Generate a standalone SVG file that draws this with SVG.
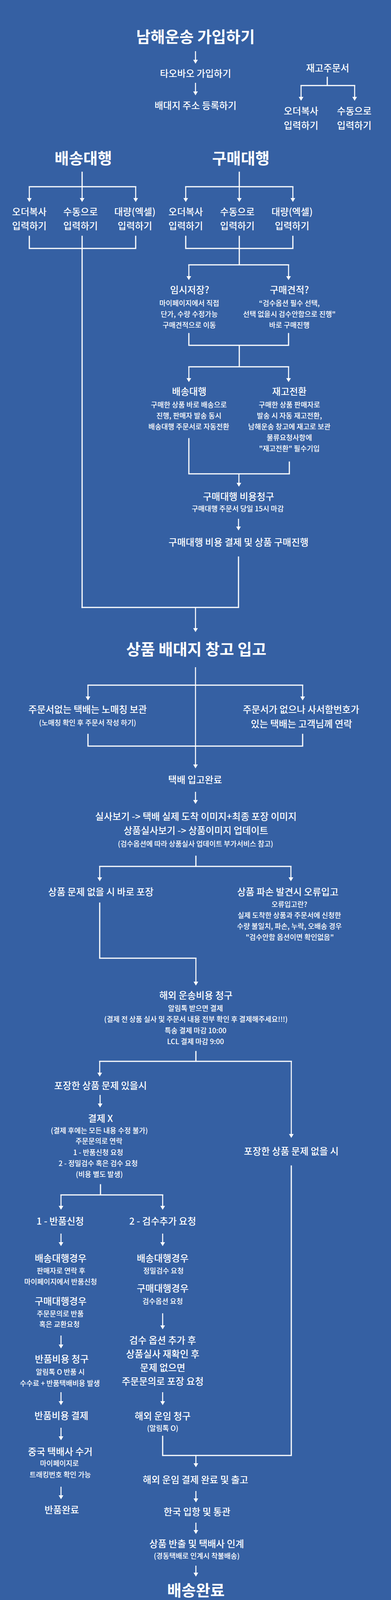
<svg xmlns="http://www.w3.org/2000/svg" width="1000" height="4260" viewBox="0 0 1000 4260">
<defs>
<style>
text{font-family:"Noto Sans CJK KR","Noto Sans",sans-serif;fill:#fff;text-anchor:middle}
.h1{font-size:40px;font-weight:700}
.h2{font-size:24px;font-weight:500}
.s{font-size:18px;font-weight:500}
.ln{stroke:#fff;stroke-width:3;fill:none;stroke-linecap:square}
.ar{stroke:#fff;stroke-width:2.6;fill:none;marker-end:url(#ah)}
</style>
<marker id="ah" markerUnits="userSpaceOnUse" markerWidth="12" markerHeight="12" refX="7" refY="6" orient="auto" viewBox="0 0 10 12">
<path d="M0,0 L10,6 L0,12 z" fill="#fff"/>
</marker>
</defs>
<rect width="1000" height="4260" fill="#3560A3"/>

<g id="connectors">
<line class="ar" x1="500" y1="131" x2="500" y2="160"/>
<line class="ar" x1="500" y1="212" x2="500" y2="241"/>
<path class="ln" d="M837,198 V219 M770,219 H907"/>
<line class="ar" x1="770" y1="219" x2="770" y2="255"/>
<line class="ar" x1="907" y1="219" x2="907" y2="255"/>

<path class="ln" d="M210,441 V478 M75,478 H347"/>
<line class="ar" x1="75" y1="478" x2="75" y2="514"/>
<line class="ar" x1="210" y1="478" x2="210" y2="514"/>
<line class="ar" x1="347" y1="478" x2="347" y2="514"/>
<path class="ln" d="M612,441 V478 M475,478 H749"/>
<line class="ar" x1="475" y1="478" x2="475" y2="514"/>
<line class="ar" x1="612" y1="478" x2="612" y2="514"/>
<line class="ar" x1="749" y1="478" x2="749" y2="514"/>

<path class="ln" d="M75,605 V636 H347 V605 M210,605 V1555"/>
<path class="ln" d="M475,605 V636 H749 V605 M612,605 V678 M483,678 H738"/>
<line class="ar" x1="483" y1="678" x2="483" y2="714"/>
<line class="ar" x1="738" y1="678" x2="738" y2="714"/>

<path class="ln" d="M483,854 V884 H738 V854 M612,884 V939 M483,939 H738"/>
<line class="ar" x1="483" y1="939" x2="483" y2="975"/>
<line class="ar" x1="738" y1="939" x2="738" y2="975"/>

<path class="ln" d="M483,1123 V1213 H740 V1183"/>
<line class="ar" x1="611" y1="1213" x2="611" y2="1243"/>
<line class="ar" x1="610" y1="1328" x2="610" y2="1355"/>

<path class="ln" d="M610,1426 V1555 H210"/>
<line class="ar" x1="500" y1="1555" x2="500" y2="1615"/>

<line class="ar" x1="500" y1="1708" x2="500" y2="1964"/>
<path class="ln" d="M225,1754 H774"/>
<line class="ar" x1="225" y1="1754" x2="225" y2="1790"/>
<line class="ar" x1="774" y1="1754" x2="774" y2="1790"/>
<path class="ln" d="M225,1880 V1910 H774 V1880"/>

<line class="ar" x1="500" y1="2027" x2="500" y2="2055"/>
<path class="ln" d="M501,2192 V2218 M255,2218 H744"/>
<line class="ar" x1="255" y1="2218" x2="255" y2="2253"/>
<line class="ar" x1="744" y1="2218" x2="744" y2="2253"/>

<path class="ln" d="M255,2312 V2453 H501"/>
<line class="ar" x1="501" y1="2453" x2="501" y2="2520"/>

<path class="ln" d="M501,2692 V2717 M255,2717 H745"/>
<line class="ar" x1="255" y1="2717" x2="255" y2="2753"/>
<line class="ar" x1="745" y1="2717" x2="745" y2="2910"/>
<line class="ar" x1="256" y1="2803" x2="256" y2="2832"/>

<path class="ln" d="M257,3033 V3059 M156,3059 H416"/>
<line class="ar" x1="156" y1="3059" x2="156" y2="3094"/>
<line class="ar" x1="416" y1="3059" x2="416" y2="3094"/>
<line class="ar" x1="156" y1="3158" x2="156" y2="3187"/>
<line class="ar" x1="416" y1="3158" x2="416" y2="3187"/>
<line class="ar" x1="416" y1="3362" x2="416" y2="3400"/>
<line class="ar" x1="156" y1="3419" x2="156" y2="3449"/>
<line class="ar" x1="156" y1="3564" x2="156" y2="3594"/>
<line class="ar" x1="416" y1="3564" x2="416" y2="3594"/>
<line class="ar" x1="156" y1="3655" x2="156" y2="3684"/>
<line class="ar" x1="156" y1="3806" x2="156" y2="3835"/>

<path class="ln" d="M416,3677 V3726 H745 V2985"/>
<line class="ar" x1="501" y1="3726" x2="501" y2="3753"/>
<line class="ar" x1="501" y1="3817" x2="501" y2="3843"/>
<line class="ar" x1="501" y1="3898" x2="501" y2="3924"/>
<line class="ar" x1="501" y1="4008" x2="501" y2="4033"/>
</g>

<g id="n-title"><text class="h1" x="500" y="109">남해운송 가입하기</text></g>
<g id="n-taobao"><text class="h2" x="500" y="197">타오바오 가입하기</text></g>
<g id="n-address"><text class="h2" x="500" y="279">배대지 주소 등록하기</text></g>
<g id="n-stock"><text class="h2" x="838" y="183">재고주문서</text></g>
<g id="n-stock-copy"><text class="h2" x="770" y="293">오더복사</text><text class="h2" x="770" y="330">입력하기</text></g>
<g id="n-stock-manual"><text class="h2" x="906" y="293">수동으로</text><text class="h2" x="906" y="330">입력하기</text></g>

<g id="n-ship"><text class="h1" x="213" y="420">배송대행</text></g>
<g id="n-buy"><text class="h1" x="616" y="420">구매대행</text></g>
<g id="n-ship-copy"><text class="h2" x="75" y="551">오더복사</text><text class="h2" x="75" y="587">입력하기</text></g>
<g id="n-ship-manual"><text class="h2" x="206" y="551">수동으로</text><text class="h2" x="206" y="587">입력하기</text></g>
<g id="n-ship-bulk"><text class="h2" x="345" y="551">대량(엑셀)</text><text class="h2" x="345" y="587">입력하기</text></g>
<g id="n-buy-copy"><text class="h2" x="475" y="551">오더복사</text><text class="h2" x="475" y="587">입력하기</text></g>
<g id="n-buy-manual"><text class="h2" x="607" y="551">수동으로</text><text class="h2" x="607" y="587">입력하기</text></g>
<g id="n-buy-bulk"><text class="h2" x="747" y="551">대량(엑셀)</text><text class="h2" x="747" y="587">입력하기</text></g>

<g id="n-temp"><text class="h2" x="485" y="751">임시저장?</text>
<text class="s" x="484" y="783">마이페이지에서 직접</text>
<text class="s" x="484" y="811">단가, 수량 수정가능</text>
<text class="s" x="484" y="839">구매견적으로 이동</text></g>
<g id="n-quote"><text class="h2" x="740" y="751">구매견적?</text>
<text class="s" x="740" y="783">“검수옵션 필수 선택,</text>
<text class="s" x="740" y="811">선택 없을시 검수안함으로 진행"</text>
<text class="s" x="740" y="839">바로 구매진행</text></g>

<g id="n-ship2"><text class="h2" x="484" y="1011">배송대행</text>
<text class="s" x="483" y="1043">구매한 상품 바로 배송으로</text>
<text class="s" x="483" y="1071">진행, 판매자 발송 동시</text>
<text class="s" x="483" y="1099">배송대행 주문서로 자동전환</text></g>
<g id="n-convert"><text class="h2" x="740" y="1011">재고전환</text>
<text class="s" x="740" y="1043">구매한 상품 판매자로</text>
<text class="s" x="740" y="1071">발송 시 자동 재고전환,</text>
<text class="s" x="740" y="1099">남해운송 창고에 재고로 보관</text>
<text class="s" x="740" y="1127">물류요청사항에</text>
<text class="s" x="740" y="1155">"재고전환" 필수기입</text></g>

<g id="n-buy-bill"><text class="h2" x="610" y="1280">구매대행 비용청구</text>
<text class="s" x="608" y="1309">구매대행 주문서 당일 15시 마감</text></g>
<g id="n-buy-pay"><text class="h2" x="610" y="1397">구매대행 비용 결제 및 상품 구매진행</text></g>

<g id="n-warehouse"><text class="h1" x="502" y="1677">상품 배대지 창고 입고</text></g>
<g id="n-nomatch"><text class="h2" x="224" y="1825">주문서없는 택배는 노매칭 보관</text>
<text class="s" x="224" y="1857">(노매칭 확인 후 주문서 작성 하기)</text></g>
<g id="n-pobox"><text class="h2" x="770" y="1825">주문서가 없으나 사서함번호가</text>
<text class="h2" x="771" y="1862">있는 택배는 고객님께 연락</text></g>
<g id="n-received"><text class="h2" x="499" y="2005">택배 입고완료</text></g>

<g id="n-photo"><text class="h2" x="501" y="2099">실사보기 -&gt; 택배 실제 도착 이미지+최종 포장 이미지</text>
<text class="h2" x="501" y="2135">상품실사보기 -&gt; 상품이미지 업데이트</text>
<text class="s" x="500" y="2167">(검수옵션에 따라 상품실사 업데이트 부가서비스 참고)</text></g>

<g id="n-pack"><text class="h2" x="258" y="2292">상품 문제 없을 시 바로 포장</text></g>
<g id="n-error"><text class="h2" x="736" y="2292">상품 파손 발견시 오류입고</text>
<text class="s" x="740" y="2322">오류입고란?</text>
<text class="s" x="740" y="2350">실제 도착한 상품과 주문서에 신청한</text>
<text class="s" x="740" y="2378">수량 불일치, 파손, 누락, 오배송 경우</text>
<text class="s" x="741" y="2406">"검수안함 옵션이면 확인없음"</text></g>

<g id="n-intl-bill"><text class="h2" x="501" y="2557">해외 운송비용 청구</text>
<text class="s" x="500" y="2588">알림톡 받으면 결제</text>
<text class="s" x="501" y="2616">(결제 전 상품 실사 및 주문서 내용 전부 확인 후 결제해주세요!!!)</text>
<text class="s" x="500" y="2645">특송 결제 마감 10:00</text>
<text class="s" x="500" y="2673">LCL 결제 마감 9:00</text></g>

<g id="n-issue"><text class="h2" x="257" y="2788">포장한 상품 문제 있을시</text></g>
<g id="n-nopay"><text class="h2" x="257" y="2872">결제 X</text>
<text class="s" x="254" y="2901">(결제 후에는 모든 내용 수정 불가)</text>
<text class="s" x="253" y="2928">주문문의로 연락</text>
<text class="s" x="251" y="2957">1 - 반품신청 요청</text>
<text class="s" x="251" y="2985">2 - 정밀검수 혹은 검수 요청</text>
<text class="s" x="254" y="3013">(비용 별도 발생)</text></g>
<g id="n-noissue"><text class="h2" x="745" y="2956">포장한 상품 문제 없을 시</text></g>

<g id="n-return"><text class="h2" x="154" y="3135">1 - 반품신청</text></g>
<g id="n-inspect"><text class="h2" x="416" y="3135">2 - 검수추가 요청</text></g>
<g id="n-return-case"><text class="h2" x="155" y="3230">배송대행경우</text>
<text class="s" x="156" y="3260">판매자로 연락 후</text>
<text class="s" x="155" y="3288">마이페이지에서 반품신청</text>
<text class="h2" x="155" y="3340">구매대행경우</text>
<text class="s" x="154" y="3370">주문문의로 반품</text>
<text class="s" x="152" y="3397">혹은 교환요청</text></g>
<g id="n-inspect-case"><text class="h2" x="416" y="3230">배송대행경우</text>
<text class="s" x="418" y="3260">정밀검수 요청</text>
<text class="h2" x="416" y="3307">구매대행경우</text>
<text class="s" x="416" y="3338">검수옵션 요청</text></g>

<g id="n-return-bill"><text class="h2" x="158" y="3488">반품비용 청구</text>
<text class="s" x="154" y="3519">알림톡 O 반품 시</text>
<text class="s" x="153" y="3548">수수료 + 반품택배비용 발생</text></g>
<g id="n-return-pay"><text class="h2" x="157" y="3633">반품비용 결제</text></g>
<g id="n-pickup"><text class="h2" x="154" y="3725">중국 택배사 수거</text>
<text class="s" x="152" y="3753">마이페이지로</text>
<text class="s" x="154" y="3782">트래킹번호 확인 가능</text></g>
<g id="n-return-done"><text class="h2" x="158" y="3874">반품완료</text></g>

<g id="n-recheck"><text class="h2" x="416" y="3440">검수 옵션 추가 후</text>
<text class="h2" x="416" y="3475">상품실사 재확인 후</text>
<text class="h2" x="416" y="3510">문제 없으면</text>
<text class="h2" x="416" y="3545">주문문의로 포장 요청</text></g>
<g id="n-freight"><text class="h2" x="416" y="3634">해외 운임 청구</text>
<text class="s" x="416" y="3663">(알림톡 O)</text></g>

<g id="n-ship-out"><text class="h2" x="500" y="3797">해외 운임 결제 완료 및 출고</text></g>
<g id="n-customs"><text class="h2" x="504" y="3879">한국 입항 및 통관</text></g>
<g id="n-handover"><text class="h2" x="503" y="3961">상품 반출 및 택배사 인계</text>
<text class="s" x="503" y="3990">(경동택배로 인계시 착불배송)</text></g>
<g id="n-done"><text class="h1" x="501" y="4086">배송완료</text></g>
</svg>
